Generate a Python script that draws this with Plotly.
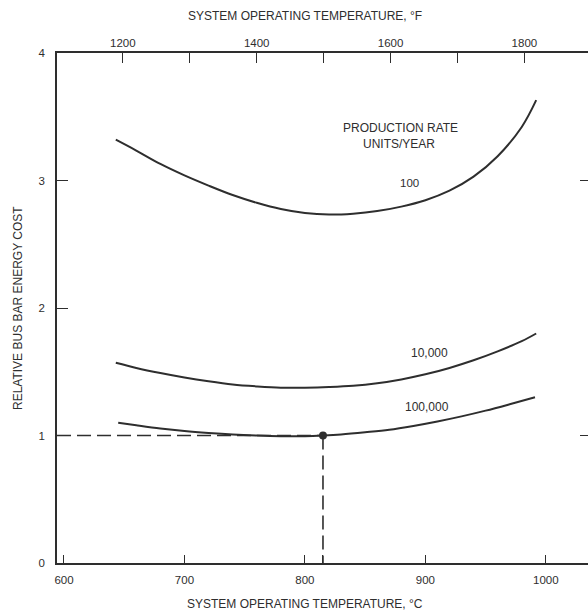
import plotly.graph_objects as go

# ---- data ----
temp_100 = [643, 660, 680, 700, 720, 740, 760, 780, 800, 820, 840, 860, 880, 900, 920, 940, 960, 980, 992]
cost_100 = [3.32, 3.235, 3.13, 3.04, 2.96, 2.886, 2.825, 2.776, 2.745, 2.733, 2.74, 2.76, 2.795, 2.845, 2.92, 3.03, 3.19, 3.42, 3.63]

temp_10k = [643, 660, 680, 700, 720, 740, 760, 780, 800, 820, 840, 860, 880, 900, 920, 940, 960, 980, 992]
cost_10k = [1.57, 1.53, 1.49, 1.455, 1.425, 1.40, 1.385, 1.375, 1.375, 1.38, 1.39, 1.41, 1.44, 1.48, 1.53, 1.59, 1.66, 1.74, 1.80]

temp_100k = [645, 660, 680, 700, 720, 740, 760, 780, 800, 815, 830, 850, 870, 890, 910, 930, 950, 970, 991]
cost_100k = [1.10, 1.08, 1.055, 1.035, 1.02, 1.008, 1.0, 0.995, 0.995, 1.0, 1.008, 1.025, 1.045, 1.075, 1.11, 1.15, 1.195, 1.245, 1.30]

design_temp = 815
design_cost = 1.0

x_ticks_c = [600, 700, 800, 900, 1000]
x_ticks_f = [1200, 1300, 1400, 1500, 1600, 1700, 1800]
x_ticklabels_f = ["1200", "", "1400", "", "1600", "", "1800"]
y_ticks = [0, 1, 2, 3, 4]

curve_labels = ["100", "10,000", "100,000"]

# ---- layout constants ----
XMIN_C, XMAX_C = 594.2, 1035.0
c2f = lambda c: c * 1.8 + 32
INK = "#2e2e2e"
FONT = "Liberation Sans"

fig = go.Figure()

for t, c in [(temp_100, cost_100), (temp_10k, cost_10k), (temp_100k, cost_100k)]:
    fig.add_trace(go.Scatter(x=t, y=c, mode="lines", line=dict(color=INK, width=2, shape="spline", smoothing=1.0),
                             showlegend=False, hoverinfo="skip"))

# dashed design-point guides
fig.add_trace(go.Scatter(x=[XMIN_C, design_temp], y=[design_cost, design_cost], mode="lines",
                         line=dict(color=INK, width=1.6, dash="14px,6px"), showlegend=False))
fig.add_trace(go.Scatter(x=[design_temp, design_temp], y=[design_cost, 0], mode="lines",
                         line=dict(color=INK, width=1.6, dash="14px,6px"), showlegend=False))
fig.add_trace(go.Scatter(x=[design_temp], y=[design_cost], mode="markers",
                         marker=dict(color=INK, size=8), showlegend=False))

# dummy trace for the top (deg F) axis
fig.add_trace(go.Scatter(x=[c2f(XMIN_C), c2f(XMAX_C)], y=[0, 0], xaxis="x2", mode="lines",
                         line=dict(width=0), showlegend=False, hoverinfo="skip"))
# dummy trace for right axis ticks
fig.add_trace(go.Scatter(x=[XMIN_C], y=[0], yaxis="y2", mode="lines",
                         line=dict(width=0), showlegend=False, hoverinfo="skip"))

tickfont = dict(family=FONT, size=11.5, color=INK)

fig.update_layout(
    width=588, height=614,
    margin=dict(l=57, r=0, t=53, b=51, autoexpand=False),
    paper_bgcolor="white", plot_bgcolor="white",
    font=dict(family=FONT, color=INK),
    xaxis=dict(range=[XMIN_C, XMAX_C], tickvals=x_ticks_c + [design_temp],
               ticktext=[str(v) for v in x_ticks_c] + [""], automargin=False,
               ticks="inside", ticklen=8, tickwidth=1.3, tickcolor=INK,
               showline=True, linecolor=INK, linewidth=1.8, showgrid=False, zeroline=False,
               tickfont=tickfont, ticklabelstandoff=5),
    xaxis2=dict(range=[c2f(XMIN_C), c2f(XMAX_C)], overlaying="x", side="top", automargin=False,
                tickvals=x_ticks_f, ticktext=x_ticklabels_f,
                ticks="inside", ticklen=10, tickwidth=1.3, tickcolor=INK,
                showline=True, linecolor=INK, linewidth=1.8, showgrid=False, zeroline=False,
                tickfont=tickfont, ticklabelstandoff=0),
    yaxis=dict(range=[0, 4], tickvals=y_ticks, ticks="inside", ticklen=11, tickwidth=1.3,
               tickcolor=INK, showline=True, linecolor=INK, linewidth=1.8, showgrid=False,
               zeroline=False, tickfont=tickfont, ticklabelstandoff=8, automargin=False),
    yaxis2=dict(range=[0, 4], overlaying="y", side="right", tickvals=[1, 3], ticks="inside",
                ticklen=8, tickwidth=1.3, tickcolor=INK, showticklabels=False, automargin=False,
                showline=False, showgrid=False, zeroline=False),
)

titlefont = dict(family=FONT, size=12, color=INK)
annfont = dict(family=FONT, size=12, color=INK)
anns = [
    dict(text="SYSTEM OPERATING TEMPERATURE, °F", x=800, xref="x", y=1, yref="paper",
         yanchor="bottom", yshift=28, showarrow=False, font=titlefont),
    dict(text="SYSTEM OPERATING TEMPERATURE, °C", x=800, xref="x", y=0, yref="paper",
         yanchor="top", yshift=-32, showarrow=False, font=titlefont),
    dict(text="RELATIVE BUS BAR ENERGY COST", x=0, xref="paper", y=0.5, yref="paper",
         xanchor="center", xshift=-39, textangle=-90, showarrow=False, font=titlefont),
    dict(text="PRODUCTION RATE", x=879.7, y=3.41, showarrow=False, font=annfont),
    dict(text="UNITS/YEAR", x=878, y=3.29, showarrow=False, font=annfont),
    dict(text=curve_labels[0], x=887, y=2.98, showarrow=False, font=dict(family=FONT, size=11.5, color=INK)),
    dict(text=curve_labels[1], x=903.7, y=1.65, showarrow=False, font=annfont),
    dict(text=curve_labels[2], x=901.2, y=1.22, showarrow=False, font=annfont),
]
fig.update_layout(annotations=anns)

fig.write_html("out.html", config={"displayModeBar": False},
               post_script="document.body.style.margin='0px';document.body.style.overflow='hidden';")
